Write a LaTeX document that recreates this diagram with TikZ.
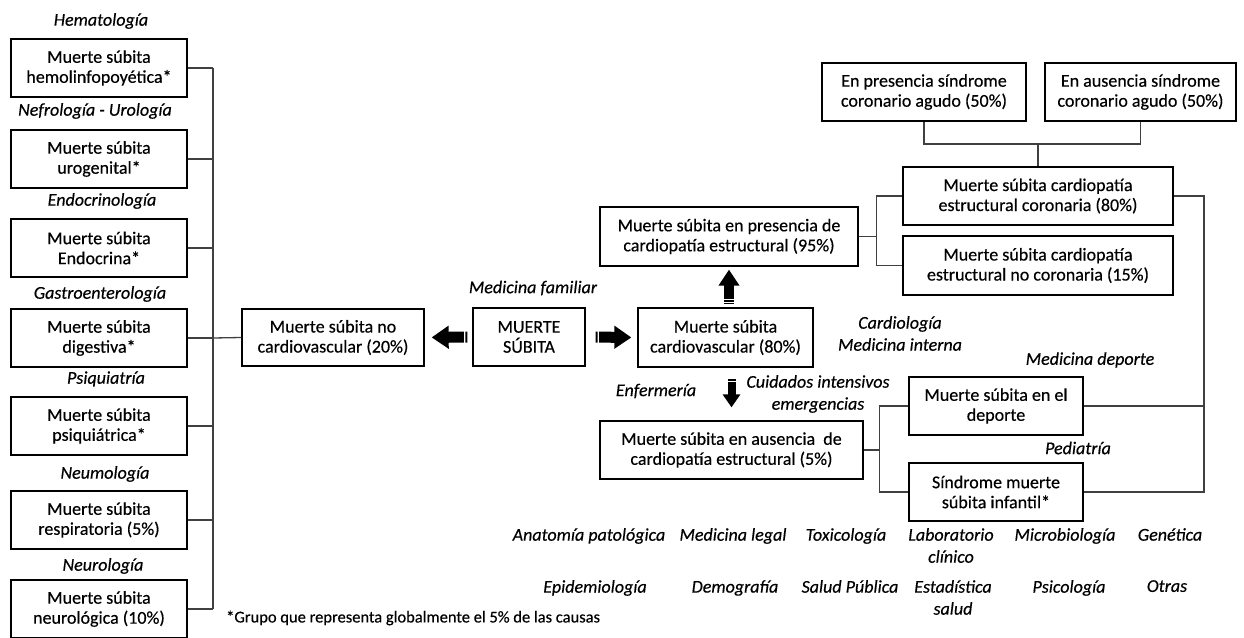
\documentclass[tikz,border=0pt]{standalone}
\usepackage{fontspec}
\setmainfont{Carlito}[FakeBold=0.4]
\usetikzlibrary{arrows.meta}

\begin{document}
\begin{tikzpicture}[x=1pt, y=-1pt,
    box/.style={draw, line width=1.3pt, align=center, inner sep=1pt, font=\fontsize{18}{20}\selectfont},
    leftbox/.style={box, minimum width=176pt, minimum height=58pt},
    area/.style={align=center, inner sep=0pt, font=\fontsize{18}{22}\selectfont\itshape},
    link/.style={draw=black!75, line width=1.3pt},
    bigarrow/.style={line width=11pt, -{Triangle[length=17pt,width=22pt]}, dash pattern=on 2pt off 1.5pt on 80pt off 1pt}]
    \useasboundingbox (0,0) rectangle (1244,637);

    % Non cardiovascular causes
    \node[leftbox] (hem)   at (99,68)  {Muerte súbita\\hemolinfopoyética*};
    \node[leftbox] (uro)   at (99,159) {Muerte súbita\\urogenital*};
    \node[leftbox] (endo)  at (99,248) {Muerte súbita\\Endocrina*};
    \node[leftbox] (dig)   at (99,338) {Muerte súbita\\digestiva*};
    \node[leftbox] (psi)   at (99,426) {Muerte súbita\\psiquiátrica*};
    \node[leftbox] (resp)  at (99,520) {Muerte súbita\\respiratoria (5\%)};
    \node[leftbox] (neuro) at (99,609) {Muerte súbita\\neurológica (10\%)};

    \node[area] (lhem)   at (101,21)  {Hematología};
    \node[area] (luro)   at (95,111)  {Nefrología - Urología};
    \node[area] (lendo)  at (102,201) {Endocrinología};
    \node[area] (ldig)   at (100,294) {Gastroenterología};
    \node[area] (lpsi)   at (106,379) {Psiquiatría};
    \node[area] (lresp)  at (105,474) {Neumología};
    \node[area] (lneuro) at (103,566) {Neurología};

    \coordinate (spine) at (213,0);
    \draw[link] (hem.east -| spine) -- (neuro.east -| spine);
    \foreach \b in {hem,uro,endo,dig,psi,resp,neuro}
        \draw[link] (\b.east) -- (\b.east -| spine);

    % Centre
    \node[box, minimum width=182pt, minimum height=57pt] (noncv) at (333,337.5) {Muerte súbita no\\cardiovascular (20\%)};
    \node[box, minimum width=112pt, minimum height=58pt] (ms) at (529,337) {MUERTE\\SÚBITA};
    \node[box, minimum width=175pt, minimum height=59pt] (cv) at (725.5,337.5) {Muerte súbita\\cardiovascular (80\%)};
    \node[area] (lfam) at (533,288) {Medicina familiar};
    \draw[link] (dig.east -| spine) -- (noncv.west);

    \draw[bigarrow, shorten <=5pt, shorten >=7pt] (ms.west) -- (noncv.east);
    \draw[bigarrow, shorten <=10pt, shorten >=6pt] (ms.east) -- (cv.west);

    % Structural heart disease
    \node[box, minimum width=258pt, minimum height=59pt] (pres) at (729,236.5) {Muerte súbita en presencia de\\cardiopatía estructural (95\%)};
    \node[box, minimum width=263pt, minimum height=58pt] (aus) at (731.5,450) {Muerte súbita en ausencia\ \ de\\cardiopatía estructural (5\%)};
    \draw[bigarrow, line width=10pt, dash pattern=on 1.5pt off 1.2pt on 1.5pt off 1.2pt on 80pt off 1pt,
        -{Triangle[length=16pt,width=20pt]}, shorten <=3pt, shorten >=3pt] (cv.north -| pres.south) -- (pres.south);
    \draw[bigarrow, line width=8pt, -{Triangle[length=13pt,width=17pt]}, shorten <=11pt, shorten >=13pt]
        (cv.south -| aus.north) -- (aus.north);

    \node[area, anchor=north] (lcard) at (900,316) {Cardiología\\Medicina interna};
    \node[area] (lenf)  at (656,391) {Enfermería};
    \node[area, anchor=north] (luci)  at (818,375) {Cuidados intensivos\\emergencias};

    % Coronary branch
    \node[box, minimum width=204pt, minimum height=58pt] (psca) at (924,92) {En presencia síndrome\\coronario agudo (50\%)};
    \node[box, minimum width=191pt, minimum height=58pt] (asca) at (1140.5,92) {En ausencia síndrome\\coronario agudo (50\%)};
    \node[box, minimum width=270pt, minimum height=58pt] (cor) at (1038,196) {Muerte súbita cardiopatía\\estructural coronaria (80\%)};
    \node[box, minimum width=270pt, minimum height=59pt] (nocor) at (1038,265.5) {Muerte súbita cardiopatía\\estructural no coronaria (15\%)};

    \coordinate (sca) at (1038,144);
    \draw[link] (psca.south) |- (sca) -| (asca.south);
    \draw[link] (sca) -- (cor.north);
    \draw[link] (pres.east) -- ++(18,0) coordinate (jp);
    \draw[link] (cor.west) -| (jp) |- (nocor.west);

    % Sport and infant
    \node[box, minimum width=174pt, minimum height=58pt] (dep) at (996,406) {Muerte súbita en el\\deporte};
    \node[box, minimum width=174pt, minimum height=58pt] (sin) at (996,492) {Síndrome muerte\\súbita infantil*};
    \node[area] (ldep) at (1090,360) {Medicina deporte};
    \node[area] (lped) at (1078,448) {Pediatría};

    \draw[link] (aus.east) -- ++(16,0) coordinate (ja);
    \draw[link] (dep.west) -| (ja) |- (sin.west);

    \coordinate (rspine) at (1204,0);
    \draw[link] (cor.east) -- (cor.east -| rspine) -- (sin.east -| rspine) -- (sin.east);
    \draw[link] (dep.east) -- (dep.east -| rspine);

    % Other areas
    \foreach \nm/\x/\txt in {anat/589/Anatomía patológica, legal/733/Medicina legal, tox/846/Toxicología,
        lab/951/Laboratorio\\clínico, micro/1065/Microbiología, gen/1170/Genética}
        \node[area, anchor=north] (\nm) at (\x,528) {\txt};
    \foreach \nm/\x/\txt in {epi/595/Epidemiología, demo/735/Demografía, salud/850/Salud Pública,
        est/953/Estadística\\salud, psico/1069/Psicología, otras/1167/Otras}
        \node[area, anchor=north] (\nm) at (\x,580) {\txt};

    \node[anchor=west, inner sep=0pt, font=\fontsize{16.5}{18}\selectfont] (nota) at (226,618)
        {*Grupo que representa globalmente el 5\% de las causas};
\end{tikzpicture}
\end{document}
